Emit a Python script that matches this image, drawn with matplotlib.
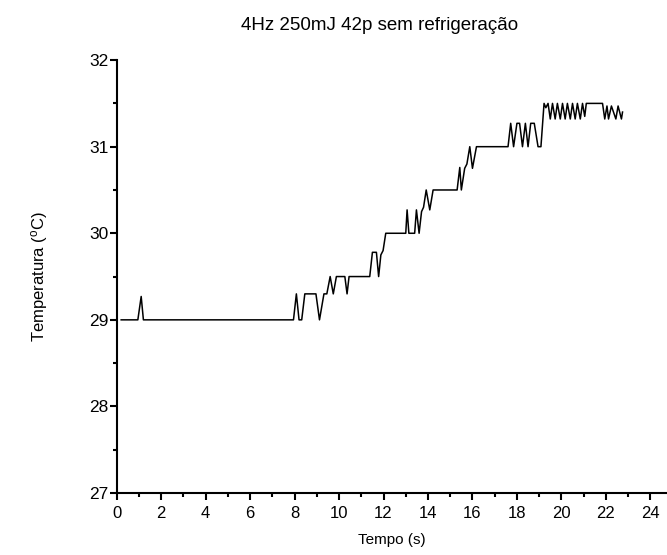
import matplotlib
matplotlib.use("Agg")
import matplotlib.pyplot as plt
from matplotlib.ticker import MultipleLocator

plt.rcParams['font.family'] = ['Liberation Sans', 'DejaVu Sans']
plt.rcParams['mathtext.fontset'] = 'custom'
plt.rcParams['mathtext.rm'] = 'Liberation Sans'
plt.rcParams['mathtext.it'] = 'Liberation Sans'

title = "4Hz 250mJ 42p sem refrigeração"
xlabel = "Tempo (s)"
ylabel = r"Temperatura ($^{o}$C)"

tempo = [0.2, 0.95, 1.1, 1.2, 7.95, 8.08, 8.2, 8.32, 8.46, 8.96, 9.12, 9.32, 9.45,
         9.6, 9.74, 9.88, 10.26, 10.36, 10.45, 11.38, 11.5, 11.68, 11.78, 11.88,
         11.98, 12.1, 13.0, 13.06, 13.14, 13.4, 13.48, 13.6, 13.71, 13.8, 13.92,
         14.08, 14.23, 15.31, 15.43, 15.5, 15.65, 15.75, 15.88, 16.0, 16.18, 17.6,
         17.72, 17.85, 18.0, 18.12, 18.25, 18.38, 18.5, 18.62, 18.78, 18.95, 19.08,
         19.22, 19.3, 19.4, 19.5, 19.6, 19.72, 19.82, 19.95, 20.05, 20.17, 20.27,
         20.4, 20.5, 20.62, 20.72, 20.85, 20.95, 21.05, 21.12, 21.85, 21.95, 22.05,
         22.12, 22.25, 22.45, 22.55, 22.7, 22.75]
temperatura = [29, 29, 29.27, 29, 29, 29.3, 29, 29, 29.3, 29.3, 29, 29.3, 29.3,
               29.5, 29.3, 29.5, 29.5, 29.3, 29.5, 29.5, 29.78, 29.78, 29.5, 29.75,
               29.8, 30, 30, 30.27, 30, 30, 30.27, 30, 30.25, 30.3, 30.5,
               30.27, 30.5, 30.5, 30.76, 30.5, 30.75, 30.8, 31, 30.75, 31, 31,
               31.27, 31, 31.27, 31.27, 31, 31.27, 31, 31.27, 31.27, 31.0, 31.0,
               31.5, 31.45, 31.5, 31.32, 31.5, 31.32, 31.5, 31.32, 31.5, 31.32, 31.5,
               31.32, 31.5, 31.32, 31.5, 31.32, 31.5, 31.35, 31.5, 31.5, 31.32, 31.47,
               31.32, 31.47, 31.32, 31.47, 31.32, 31.4]

xticks = [0, 2, 4, 6, 8, 10, 12, 14, 16, 18, 20, 22, 24]
yticks = [27, 28, 29, 30, 31, 32]

fig = plt.figure(figsize=(6.67, 5.55), dpi=100)
ax = fig.add_axes([0.175, 0.1117, 0.825, 0.780])
ax.plot(tempo, temperatura, color='black', linewidth=1.1)

ax.set_xlim(0, 24.75)
ax.set_ylim(27, 32)
ax.set_xticks(xticks)
ax.set_yticks(yticks)
ax.xaxis.set_minor_locator(MultipleLocator(1))
ax.yaxis.set_minor_locator(MultipleLocator(0.5))
for s in ['top', 'right']:
    ax.spines[s].set_visible(False)
for s in ['left', 'bottom']:
    ax.spines[s].set_linewidth(1.5)
ax.tick_params(which='major', direction='out', length=5, width=1.5)
ax.tick_params(which='minor', direction='out', length=3, width=1.5)
ax.tick_params(axis='y', which='major', labelsize=12.5, pad=1)
ax.tick_params(axis='x', which='major', labelsize=12, pad=4)

fig.text(380 / 667, 1 - 26 / 555, title, fontsize=13.5, ha='center', va='center')
ax.set_xlabel(xlabel, fontsize=11, labelpad=9)
ax.set_ylabel(ylabel, fontsize=12, labelpad=28)

fig.savefig("out.png", dpi=100)
